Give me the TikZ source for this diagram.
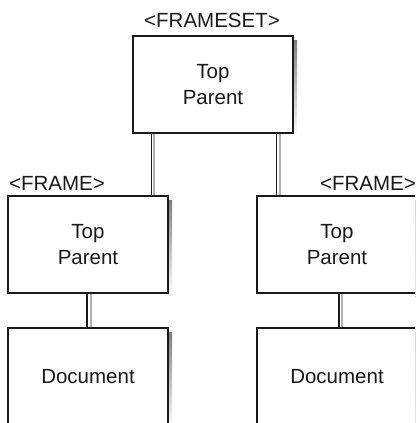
\documentclass[tikz,border=0pt]{standalone}
\usepackage{fontspec}
\setmainfont{Liberation Sans}
\definecolor{shade}{HTML}{B0B0B0}
\definecolor{ink}{HTML}{1A1A1A}
\tikzset{
  x=1pt, y=1pt,
  frbox/.style={draw=ink, line width=1.3pt, fill=white, minimum width=160pt, minimum height=97pt,
    inner sep=0pt, align=center, font=\fontsize{20.5}{26}\selectfont, text=ink},
  shadowbox/.style={fill=shade, draw=none},
  lbl/.style={inner sep=0pt, font=\fontsize{20.5}{24}\selectfont, text=ink},
  wire/.style={draw=ink, line width=1.2pt},
  wireshadow/.style={draw=shade, line width=1.2pt}
}
\begin{document}
\begin{tikzpicture}
\useasboundingbox (0,0) rectangle (415,-423);
\clip (0,0) rectangle (415,-423);
% shadows
\fill[shade] (137,-40) rectangle (297,-137);
\fill[shade] (12,-200) rectangle (172,-297);
\fill[shade] (261,-200) rectangle (421,-297);
\fill[shade] (12,-332) rectangle (172,-429);
\fill[shade] (261,-332) rectangle (421,-429);
% connector shadows
\draw[wireshadow] (154,-133) -- (154,-196);
\draw[wireshadow] (280,-133) -- (280,-196);
\draw[wireshadow] (91,-293) -- (91,-328);
\draw[wireshadow] (342,-293) -- (342,-328);
% boxes
\node[frbox] (top) at (213,-84.5) {Top\\Parent};
\node[frbox] (lf) at (88,-244.5) {Top\\Parent};
\node[frbox] (rf) at (337,-244.5) {Top\\Parent};
\node[frbox] (ld) at (88,-376.5) {Document};
\node[frbox] (rd) at (337,-376.5) {Document};
% labels
\node[lbl] (l1) at (212,-20) {<FRAMESET>};
\node[lbl, anchor=west] (l2) at (9,-183) {<FRAME>};
\node[lbl, anchor=east] (l3) at (416,-183) {<FRAME>};
% connectors
\draw[wire] ([xshift=-17pt]lf.north east) -- ([xshift=-17pt]lf.north east |- top.south);
\draw[wire] ([xshift=20pt]rf.north west) -- ([xshift=20pt]rf.north west |- top.south);
\draw[wire] ([xshift=-1pt]lf.south) -- ([xshift=-1pt]ld.north);
\draw[wire] ([xshift=2pt]rf.south) -- ([xshift=2pt]rd.north);
\end{tikzpicture}
\end{document}
